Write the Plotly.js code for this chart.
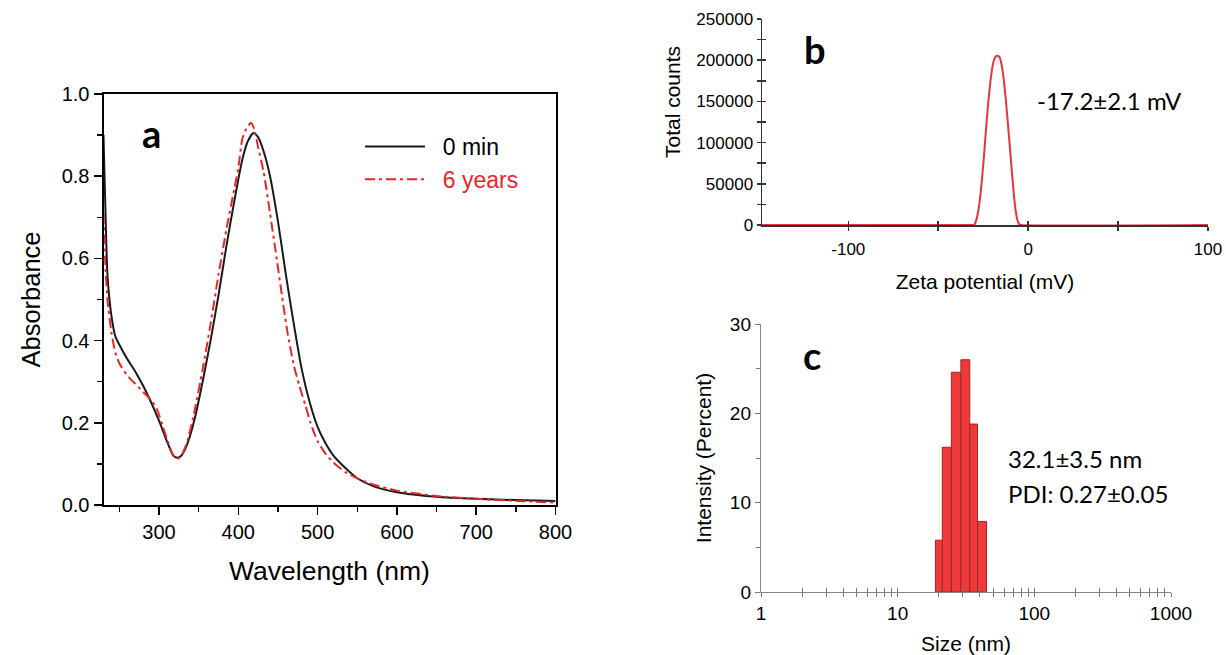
<!DOCTYPE html>
<html>
<head>
<meta charset="utf-8">
<script src="https://cdn.plot.ly/plotly-3.0.1.min.js"></script>
<style>html,body{margin:0;padding:0;background:#fff;}#chart{width:1226px;height:655px;}</style>
</head>
<body>
<div id="chart"></div>
<script>
// ---- Panel a: UV-Vis absorbance ----
const wavelength0 = [230,232,235,240,245,250,260,270,280,290,300,310,318,323,328,335,345,355,365,375,385,395,405,412,419,425,432,440,450,460,470,480,490,500,510,520,535,550,570,600,650,700,750,800];
const absorbance0 = [0.90,0.75,0.56,0.46,0.41,0.39,0.355,0.325,0.29,0.25,0.205,0.155,0.12,0.115,0.12,0.145,0.21,0.30,0.40,0.51,0.63,0.74,0.84,0.885,0.905,0.895,0.86,0.80,0.69,0.56,0.44,0.33,0.25,0.19,0.15,0.12,0.09,0.065,0.046,0.031,0.02,0.015,0.012,0.01];
const wavelength6 = [230,232,235,240,245,250,260,270,280,290,297,305,312,318,323,328,335,345,355,365,375,385,395,400,405,410,416,420,425,432,440,448,455,462,470,477,485,491,500,510,520,535,550,570,600,650,700,750,800];
const absorbance6 = [0.71,0.60,0.50,0.42,0.37,0.345,0.315,0.295,0.275,0.255,0.235,0.19,0.15,0.12,0.112,0.12,0.15,0.23,0.33,0.44,0.56,0.67,0.77,0.82,0.89,0.915,0.93,0.915,0.87,0.81,0.71,0.605,0.51,0.42,0.34,0.29,0.24,0.20,0.155,0.125,0.103,0.08,0.065,0.05,0.035,0.022,0.015,0.01,0.006];
const legendNames = ['0 min', '6 years'];

// ---- Panel b: zeta potential distribution ----
const zetaPotential = [-148,-31,-30,-29,-28,-27,-26,-25,-24,-23,-22,-21,-20,-19,-18,-17,-16,-15,-14,-13,-12,-11,-10,-9,-8,-7,-6,-5,-4,100];
const totalCounts = [0,0,0,5000,14000,28000,48000,72000,100000,128000,153000,174000,190000,200000,204500,205500,204000,197000,184000,165000,142000,116000,90000,63000,38000,18000,6000,1000,0,0];
const zetaLabel = '-17.2±2.1 mV';
const zetaYTitle = 'Total counts';

// ---- Panel c: size distribution (DLS) ----
const sizeBinEdges = [18.9,21.2,24.7,29.0,33.7,38.4,44.7];
const intensityPercent = [5.8,16.2,24.6,26.0,18.8,7.9];
const sizeLabel1 = '32.1±3.5 nm';
const sizeLabel2 = 'PDI: 0.27±0.05';
const sizeTickVals = [1,10,100,1000];
const sizeTickText = ['1','10','100','1000'];
const sizeMinorMultipliers = [2,3,4,5,6,7,8,9];

const RED = '#E8262B';
const AX = 'Liberation Sans, Arial, sans-serif';
const CAL = 'Lato, Open Sans, sans-serif';
const GAP = '\u00a0\u00a0';

// derived log-space bar geometry
const logEdges = sizeBinEdges.map(v => Math.log10(v));
const barX = intensityPercent.map((_, i) => (logEdges[i] + logEdges[i+1]) / 2);
const barW = intensityPercent.map((_, i) => logEdges[i+1] - logEdges[i]);
const minorLog = [];
[1,10,100].forEach(d => sizeMinorMultipliers.forEach(m => minorLog.push(Math.log10(d*m))));

const traces = [
  {x: wavelength0, y: absorbance0, xaxis:'x', yaxis:'y', type:'scatter', mode:'lines', name: GAP + legendNames[0],
   line:{color:'#1a1a1a', width:2, shape:'spline', smoothing:0.6}},
  {x: wavelength6, y: absorbance6, xaxis:'x', yaxis:'y', type:'scatter', mode:'lines',
   name: GAP + '<span style="color:' + RED + '">' + legendNames[1] + '</span>',
   line:{color:RED, width:2, dash:'10px,4px,3px,4px', shape:'spline', smoothing:0.6}},
  {x: zetaPotential, y: totalCounts, xaxis:'x2', yaxis:'y2', type:'scatter', mode:'lines', showlegend:false,
   line:{color:'#E8343C', width:2, shape:'spline', smoothing:0.5}},
  {x: barX, y: intensityPercent, width: barW, xaxis:'x3', yaxis:'y3', type:'bar', showlegend:false,
   marker:{color:'#EE3A3A', line:{color:'#A32424', width:1}}},
  // empty helpers so overlay axes (crossing ticks) are drawn
  {x: [], y: [], xaxis:'x4', yaxis:'y2', type:'scatter', showlegend:false, hoverinfo:'skip'},
  {x: [], y: [], xaxis:'x2', yaxis:'y4', type:'scatter', showlegend:false, hoverinfo:'skip'},
  {x: [], y: [], xaxis:'x5', yaxis:'y3', type:'scatter', showlegend:false, hoverinfo:'skip'}
];

const W = 1226, H = 655;
const px = v => v / W, py = v => 1 - v / H;

const layout = {
  width: W, height: H,
  margin: {l:0, r:0, t:0, b:0},
  paper_bgcolor: '#fff', plot_bgcolor: 'rgba(0,0,0,0)',
  font: {family: AX, color: '#000'},
  showlegend: true,
  legend: {x: px(360), y: py(125), xanchor:'left', yanchor:'top', bgcolor:'rgba(0,0,0,0)',
           font:{family: AX, size: 23, color:'#000'}, tracegroupgap: 0, itemwidth: 60},
  // panel a
  xaxis: {domain:[px(103.5), px(555.5)], anchor:'y', range:[230,800], tick0:0, dtick:100,
          showline:true, linecolor:'#000', linewidth:2, mirror:true, showgrid:false, zeroline:false,
          ticks:'outside', ticklen:8, tickwidth:1.5, tickcolor:'#000',
          minor:{dtick:50, tick0:0, ticks:'outside', ticklen:5, tickwidth:1.5, tickcolor:'#000', showgrid:false},
          tickfont:{size:20, family:AX}, title:{text:'Wavelength (nm)', font:{size:26.5, family:AX}, standoff:19}},
  yaxis: {domain:[py(505), py(94)], anchor:'x', range:[0,1], tick0:0, dtick:0.2, tickformat:'.1f',
          showline:true, linecolor:'#000', linewidth:2, mirror:true, showgrid:false, zeroline:false,
          ticks:'outside', ticklen:8, tickwidth:1.5, tickcolor:'#000',
          minor:{dtick:0.1, tick0:0, ticks:'outside', ticklen:5, tickwidth:1.5, tickcolor:'#000', showgrid:false},
          tickfont:{size:20, family:AX}, title:{text:'Absorbance', font:{size:25.5, family:AX}, standoff:14}},
  // panel b
  xaxis2: {domain:[px(762), px(1208)], anchor:'y2', range:[-148,100], tickvals:[-100,-50,0,50,100],
           ticktext:['-100','','0','','100'], ticklabelstandoff:4,
           showline:true, linecolor:'#333', linewidth:1.5, showgrid:false, zeroline:false,
           ticks:'outside', ticklen:4, tickwidth:1.5, tickcolor:'#333',
           tickfont:{size:17, family:AX}, title:{text:'Zeta potential (mV)', font:{size:21, family:AX}, standoff:16}},
  xaxis4: {overlaying:'x2', anchor:'y2', range:[-148,100], tickvals:[-100,-50,0,50,100], showticklabels:false,
           showline:false, showgrid:false, zeroline:false, ticks:'inside', ticklen:4, tickwidth:1.5, tickcolor:'#333'},
  yaxis2: {domain:[py(225), py(19)], anchor:'x2', range:[0,250000], tick0:0, dtick:50000, tickformat:'d',
           showline:true, linecolor:'#333', linewidth:1.5, showgrid:false, zeroline:false,
           ticks:'outside', ticklen:4, tickwidth:1.5, tickcolor:'#333',
           minor:{dtick:25000, tick0:0, ticks:'outside', ticklen:4, tickwidth:1.5, tickcolor:'#333', showgrid:false},
           tickfont:{size:17, family:AX}},
  yaxis4: {overlaying:'y2', anchor:'x2', range:[0,250000], tick0:0, dtick:25000, showticklabels:false,
           showline:false, showgrid:false, zeroline:false, ticks:'inside', ticklen:4, tickwidth:1.5, tickcolor:'#333'},
  // panel c
  xaxis3: {domain:[px(761), px(1171)], anchor:'y3', range:[0,3],
           tickvals: sizeTickVals.map(v => Math.log10(v)), ticktext: sizeTickText, ticklabelstandoff:0,
           showline:true, linecolor:'#888', linewidth:1.2, showgrid:false, zeroline:false,
           ticks:'outside', ticklen:4, tickwidth:1, tickcolor:'#777',
           minor:{tickvals: minorLog, ticks:'outside', ticklen:4, tickwidth:1, tickcolor:'#777', showgrid:false},
           tickfont:{size:19, family:AX}, title:{text:'Size (nm)', font:{size:21, family:AX}, standoff:14}},
  xaxis5: {overlaying:'x3', anchor:'y3', range:[0,3],
           tickvals: sizeTickVals.map(v => Math.log10(v)).concat(minorLog), showticklabels:false,
           showline:false, showgrid:false, zeroline:false, ticks:'inside', ticklen:4, tickwidth:1, tickcolor:'#777'},
  yaxis3: {domain:[py(592), py(324)], anchor:'x3', range:[0,30], tick0:0, dtick:10,
           showline:true, linecolor:'#888', linewidth:1.2, showgrid:false, zeroline:false,
           ticks:'outside', ticklen:5, tickwidth:1, tickcolor:'#777',
           minor:{dtick:5, tick0:0, ticks:'outside', ticklen:4, tickwidth:1, tickcolor:'#777', showgrid:false},
           tickfont:{size:19, family:AX}, title:{text:'Intensity (Percent)', font:{size:21, family:AX}, standoff:12}},
  bargap: 0,
  annotations: [
    {text: zetaYTitle, xref:'paper', yref:'paper', x:px(673), y:py(102), xanchor:'center', yanchor:'middle',
     textangle:-90, showarrow:false, font:{family:AX, size:21, color:'#000'}},
    {text:'<b>a</b>', xref:'paper', yref:'paper', x:px(151), y:py(133), xanchor:'center', yanchor:'middle',
     showarrow:false, font:{family:CAL, size:38, color:'#000'}},
    {text:'<b>b</b>', xref:'paper', yref:'paper', x:px(815), y:py(49), xanchor:'center', yanchor:'middle',
     showarrow:false, font:{family:CAL, size:38, color:'#000'}},
    {text:'<b>c</b>', xref:'paper', yref:'paper', x:px(812), y:py(355), xanchor:'center', yanchor:'middle',
     showarrow:false, font:{family:CAL, size:38, color:'#000'}},
    {text: zetaLabel, xref:'paper', yref:'paper', x:px(1035), y:py(100), xanchor:'left', yanchor:'middle',
     showarrow:false, font:{family:CAL, size:24, color:'#000'}},
    {text: sizeLabel1, xref:'paper', yref:'paper', x:px(1006), y:py(458), xanchor:'left', yanchor:'middle',
     showarrow:false, font:{family:CAL, size:24, color:'#000'}},
    {text: sizeLabel2, xref:'paper', yref:'paper', x:px(1006), y:py(493), xanchor:'left', yanchor:'middle',
     showarrow:false, font:{family:CAL, size:24, color:'#000'}}
  ]
};

Plotly.newPlot('chart', traces, layout, {displayModeBar:false, staticPlot:true});
</script>
</body>
</html>
